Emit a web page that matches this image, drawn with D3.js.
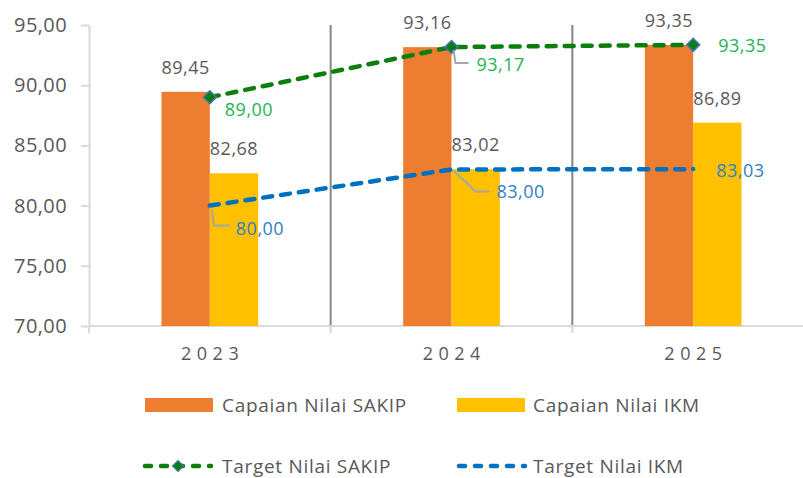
<!DOCTYPE html>
<html><head><meta charset="utf-8">
<script src="https://cdn.jsdelivr.net/npm/d3@7"></script>
<style>body{margin:0;background:#fff;} svg{display:block;font-family:"Open Sans",sans-serif;}</style>
</head><body><svg id="c" width="803" height="478"></svg>
<script>
const categories = ["2023", "2024", "2025"];
const capaianSAKIP = [89.45, 93.16, 93.35];
const capaianIKM = [82.68, 83.02, 86.89];
const targetSAKIP = [89.00, 93.17, 93.35];
const targetIKM = [80.00, 83.00, 83.03];
const yTicks = [70, 75, 80, 85, 90, 95];
const seriesNames = ["Capaian Nilai SAKIP", "Capaian Nilai IKM", "Target Nilai SAKIP", "Target Nilai IKM"];

const C = { orange: "#ED7D31", yellow: "#FFC000", green: "#0B7F0B", blue: "#0070C0",
  greenLbl: "#1DB455", blueLbl: "#2E80C3", text: "#595959", axis: "#D9D9D9", grid: "#858585", leader: "#A6A6A6" };

const fmt = v => v.toFixed(2).replace(".", ",");
const svg = d3.select("#c");
const x = d3.scaleBand().domain(categories).range([89, 814]).padding(0);
const y = d3.scaleLinear().domain([70, 95]).range([326, 25]);
const inner = d3.scaleBand().domain(["sakip", "ikm"]).range([x.bandwidth() * 0.3, x.bandwidth() * 0.7]);
const cx = c => x(c) + x.bandwidth() / 2;

// category separators
svg.append("g").selectAll("line").data(categories.slice(1)).join("line")
  .attr("x1", d => x(d)).attr("x2", d => x(d))
  .attr("y1", y(95)).attr("y2", y(70))
  .attr("stroke", C.grid).attr("stroke-width", 2);

// x axis line + boundary ticks
svg.append("line").attr("x1", x.range()[0]).attr("x2", x.range()[1]).attr("y1", y(70)).attr("y2", y(70))
  .attr("stroke", C.axis).attr("stroke-width", 2);
svg.append("g").selectAll("line").data(categories).join("line")
  .attr("x1", d => x(d)).attr("x2", d => x(d)).attr("y1", y(70)).attr("y2", y(70) + 7)
  .attr("stroke", C.axis).attr("stroke-width", 2);

const xAxis = svg.append("g").attr("transform", `translate(0,${y(70)})`)
  .call(d3.axisBottom(x).tickSize(0).tickPadding(21));
xAxis.select(".domain").remove();
xAxis.selectAll("text").attr("fill", C.text).attr("font-size", 18).attr("letter-spacing", 5.5)
  .attr("dx", 2.75).style("font-family", "'Open Sans',sans-serif");

// y axis
const yAxis = svg.append("g").attr("transform", `translate(${x.range()[0]},0)`)
  .call(d3.axisLeft(y).tickValues(yTicks).tickSize(8).tickSizeOuter(0).tickPadding(14).tickFormat(fmt));
yAxis.select(".domain").attr("stroke", C.axis).attr("stroke-width", 2);
yAxis.selectAll(".tick line").attr("stroke", C.axis).attr("stroke-width", 2);
yAxis.selectAll("text").attr("fill", C.text).attr("font-size", 20).attr("letter-spacing", 0.4)
  .style("font-family", "'Open Sans',sans-serif");

// bars
const bars = svg.append("g");
bars.selectAll(".bs").data(capaianSAKIP).join("rect")
  .attr("x", (d, i) => x(categories[i]) + inner("sakip")).attr("width", inner.bandwidth())
  .attr("y", d => y(d)).attr("height", d => y(70) - y(d)).attr("fill", C.orange);
bars.selectAll(".bi").data(capaianIKM).join("rect").attr("class", "bi")
  .attr("x", (d, i) => x(categories[i]) + inner("ikm")).attr("width", inner.bandwidth())
  .attr("y", d => y(d)).attr("height", d => y(70) - y(d)).attr("fill", C.yellow);

// bar labels
const lblG = svg.append("g").attr("font-size", 18).attr("letter-spacing", 0.5).attr("fill", C.text);
capaianSAKIP.forEach((v, i) => lblG.append("text")
  .attr("x", x(categories[i]) + inner("sakip") + inner.bandwidth() / 2).attr("y", y(v) - 18)
  .attr("text-anchor", "middle").text(fmt(v)));
capaianIKM.forEach((v, i) => lblG.append("text")
  .attr("x", x(categories[i]) + inner("ikm") + inner.bandwidth() / 2).attr("y", y(v) - 18)
  .attr("text-anchor", "middle").text(fmt(v)));

// lines
const line = d3.line().x((d, i) => cx(categories[i])).y(d => y(d));
svg.append("path").datum(targetIKM).attr("d", line).attr("fill", "none")
  .attr("stroke", C.blue).attr("stroke-width", 4.5).attr("stroke-dasharray", "9,9").attr("stroke-linecap", "round");
svg.append("path").datum(targetSAKIP).attr("d", line).attr("fill", "none")
  .attr("stroke", C.green).attr("stroke-width", 4.5).attr("stroke-dasharray", "9,9").attr("stroke-linecap", "round");

const diamond = d3.symbol().type(d3.symbolSquare).size(85);
svg.append("g").selectAll("path").data(targetSAKIP).join("path")
  .attr("d", diamond)
  .attr("transform", (d, i) => `translate(${cx(categories[i])},${y(d)}) rotate(45)`)
  .attr("fill", C.green).attr("stroke", "#4472C4").attr("stroke-width", 1.5);

// target labels with leader lines
const greenOff = [{dx: 15, dy: 19}, {dx: 25, dy: 24, leader: [[2, 3], [4, 16], [17, 16]]}, {dx: 25, dy: 7}];
const blueOff = [{dx: 26, dy: 29.5, leader: [[2, 4], [4, 20], [20, 20]]},
  {dx: 45, dy: 28.5, leader: [[2, 1], [24, 22], [38, 22]]}, {dx: 23, dy: 8}];
function targetLabels(vals, offs, color) {
  const g = svg.append("g");
  vals.forEach((v, i) => {
    const px = cx(categories[i]), py = y(v), o = offs[i];
    if (o.leader) g.append("polyline")
      .attr("points", o.leader.map(p => [px + p[0], py + p[1]].join(",")).join(" "))
      .attr("fill", "none").attr("stroke", C.leader).attr("stroke-width", 2);
    g.append("text").attr("x", px + o.dx).attr("y", py + o.dy).attr("fill", color)
      .attr("font-size", 18).attr("letter-spacing", 0.5).text(fmt(v));
  });
}
targetLabels(targetSAKIP, greenOff, C.greenLbl);
targetLabels(targetIKM, blueOff, C.blueLbl);

// legend
const leg = svg.append("g").attr("font-size", 19).attr("letter-spacing", 0.7).attr("fill", C.text);
const legItems = [
  {name: seriesNames[0], type: "bar", color: C.orange, x: 145, y: 405},
  {name: seriesNames[1], type: "bar", color: C.yellow, x: 457, y: 405},
  {name: seriesNames[2], type: "line", color: C.green, x: 143, y: 466, marker: true},
  {name: seriesNames[3], type: "line", color: C.blue, x: 457, y: 466}
];
legItems.forEach(it => {
  if (it.type === "bar") {
    leg.append("rect").attr("x", it.x).attr("y", it.y - 7).attr("width", 68).attr("height", 14).attr("fill", it.color);
  } else {
    leg.append("line").attr("x1", it.x + 2).attr("x2", it.x + 68).attr("y1", it.y).attr("y2", it.y)
      .attr("stroke", it.color).attr("stroke-width", 4.5).attr("stroke-dasharray", "6,10").attr("stroke-linecap", "round");
    if (it.marker) leg.append("path").attr("d", d3.symbol().type(d3.symbolSquare).size(60))
      .attr("transform", `translate(${it.x + 35},${it.y}) rotate(45)`)
      .attr("fill", it.color).attr("stroke", "#4472C4").attr("stroke-width", 1.2);
  }
  leg.append("text").attr("x", 222 + (it.x > 300 ? 311 : 0)).attr("y", it.y).attr("dy", "0.35em").text(it.name);
});
</script></body></html>
